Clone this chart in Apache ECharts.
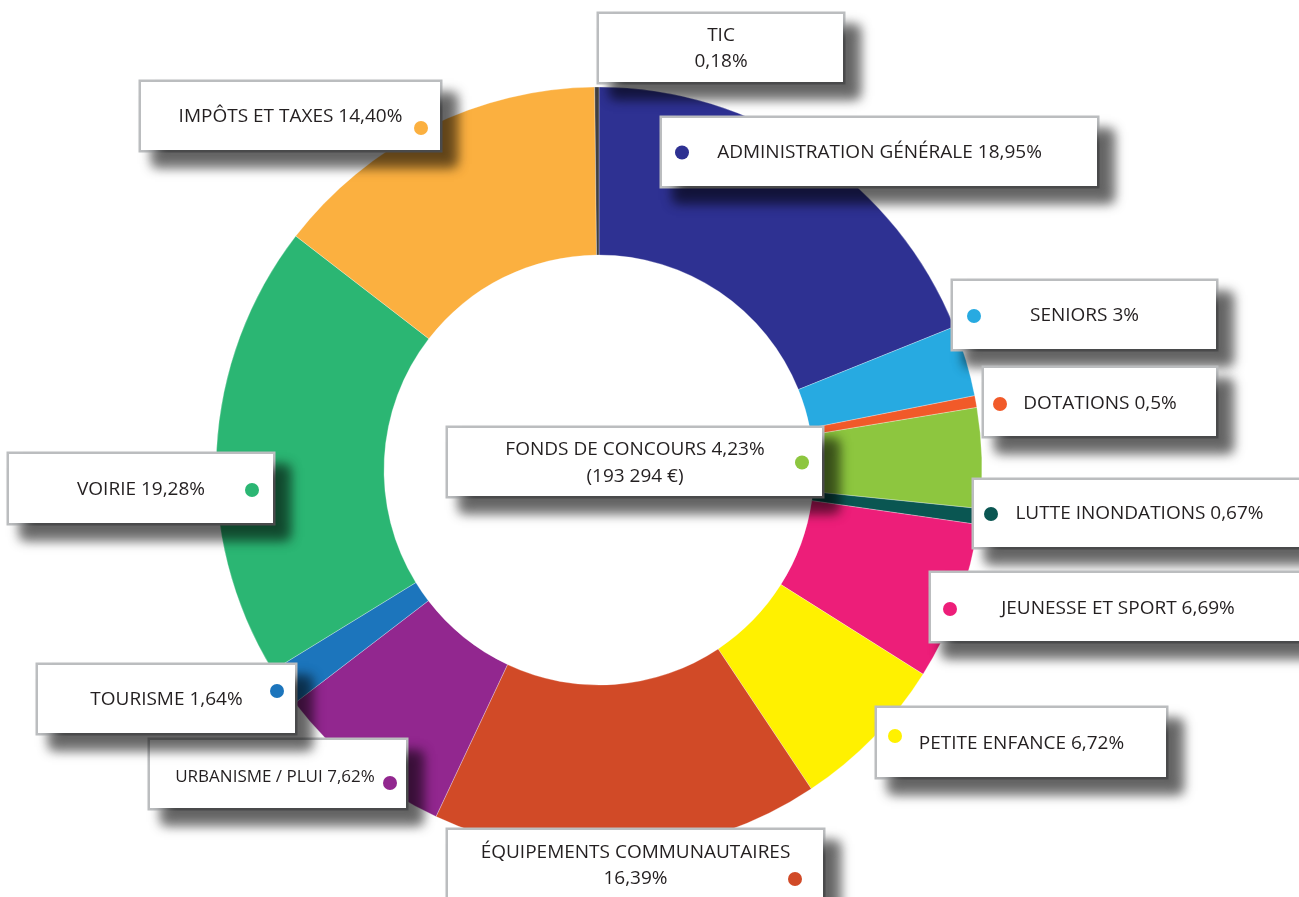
<!DOCTYPE html>
<html>
<head>
<meta charset="utf-8">
<script src="https://cdn.jsdelivr.net/npm/echarts@6/dist/echarts.min.js"></script>
<style>
html,body{margin:0;padding:0;background:#ffffff;}
#chart{width:1299px;height:897px;}
</style>
</head>
<body>
<div id="chart"></div>
<script>
// ---- data ----
const categories = ['ADMINISTRATION GÉNÉRALE','SENIORS','DOTATIONS','FONDS DE CONCOURS','LUTTE INONDATIONS','JEUNESSE ET SPORT','PETITE ENFANCE','ÉQUIPEMENTS COMMUNAUTAIRES','URBANISME / PLUI','TOURISME','VOIRIE','IMPÔTS ET TAXES','TIC'];
const values = [18.95, 3, 0.5, 4.23, 0.67, 6.69, 6.72, 16.39, 7.62, 1.64, 19.28, 14.40, 0.18];
const valueLabels = ['18,95%','3%','0,5%','4,23%','0,67%','6,69%','6,72%','16,39%','7,62%','1,64%','19,28%','14,40%','0,18%'];
const notes = ['','','','(193 294 €)','','','','','','','','',''];

// ---- styles ----
const colors = ['#2E3192','#27AAE1','#F15A29','#8DC63F','#0A5652','#ED1E79','#FFF100','#D14A27','#92278F','#1C75BC','#2BB673','#FBB040','#414042'];

// ---- label box layout (pixels) ----
const boxes = [
  {x:662, y:118, w:435, h:68, side:'l', dx:20, dy:0,   ty:152.5},
  {x:953, y:281, w:263, h:68, side:'l', dx:21, dy:0,   ty:316},
  {x:984, y:368, w:232, h:68, side:'l', dx:16, dy:0,   ty:404},
  {x:448, y:428, w:374, h:68, side:'r', dx:20, dy:12.5,ty:450, ls:27, dotLine:0},
  {x:974, y:480, w:331, h:67, side:'l', dx:17, dy:0,   ty:514},
  {x:931, y:573, w:374, h:68, side:'l', dx:19, dy:0,   ty:609},
  {x:877, y:708, w:289, h:69, side:'l', dx:18, dy:-8,  ty:744},
  {x:448, y:830, w:375, h:68, side:'r', dx:28, dy:2,   ty:853, ls:26, dotLine:1, brk:true},
  {x:150, y:740, w:256, h:68, side:'r', dx:16, dy:5,   ty:777, fs:17, sp:8},
  {x:38,  y:665, w:257, h:68, side:'r', dx:18, dy:-9,  ty:700},
  {x:9,   y:454, w:264, h:69, side:'r', dx:21, dy:0,   ty:490},
  {x:141, y:82,  w:299, h:68, side:'r', dx:19, dy:11,  ty:117},
  {x:599, y:14,  w:244, h:68, side:null,              ty:35.5, ls:26, brk:true}
];

const FONT = {fontFamily:'"Open Sans", sans-serif', fontSize:19, color:'#231f20'};

function buildLabel(i) {
  const b = boxes[i];
  let lines;
  if (b.brk) lines = [categories[i], valueLabels[i]];
  else lines = [categories[i] + ' ' + valueLabels[i]];
  if (notes[i]) lines.push(notes[i]);
  const LS = b.ls || 26;
  const p = b.side ? b.dx - 7 : 0;
  const dotLine = b.dotLine || 0;
  const ady = Math.abs(b.dy || 0);
  const DL = ady >= 3 ? 2 * (ady + 7) : 14;
  const dotVA = ady >= 3 ? (b.dy > 0 ? 'bottom' : 'top') : 'middle';
  const font = Object.assign({}, FONT, b.fs ? {fontSize: b.fs} : {});
  const rich = {
    dot: {width:14, height:14, borderRadius:7, backgroundColor:colors[i], lineHeight:DL,
          verticalAlign:dotVA, align: b.side === 'l' ? 'left' : 'right'},
    sp: {width: b.sp != null ? b.sp : 14, height:1, lineHeight:1, align: b.side === 'l' ? 'right' : 'left'}
  };
  let L0 = LS;
  if (b.side && dotLine === 0) L0 = Math.max(LS, DL);
  let top = b.ty - L0 / 2;
  const padTop = top - b.y;
  const parts = [];
  lines.forEach(function (txt, j) {
    const c = b.ty + j * LS;
    const lh = 2 * (c - top);
    let L = lh;
    if (b.side && j === dotLine) L = Math.max(lh, DL);
    rich['t' + j] = Object.assign({lineHeight: lh, align:'center', verticalAlign:'middle'}, font);
    let s;
    if (b.side && j === dotLine) {
      s = b.side === 'l' ? '{dot|}{t' + j + '|' + txt + '}{sp|}' : '{sp|}{t' + j + '|' + txt + '}{dot|}';
    } else {
      s = '{t' + j + '|' + txt + '}';
    }
    parts.push(s);
    top += L;
  });
  const padBottom = (b.y + b.h) - top;
  return {
    show: true,
    formatter: parts.join('\n'),
    width: b.w - 2 * p,
    padding: [padTop, p, padBottom, p],
    rich: rich
  };
}

const data = categories.map(function (name, i) {
  return {name: name, value: values[i], itemStyle: {color: colors[i]}, label: buildLabel(i)};
});

const chart = echarts.init(document.getElementById('chart'), null, {renderer:'canvas'});
chart.setOption({
  animation: false,
  backgroundColor: '#ffffff',
  series: [{
    type: 'pie',
    center: [599, 470],
    radius: [215, 383],
    startAngle: 90,
    clockwise: true,
    avoidLabelOverlap: false,
    silent: true,
    itemStyle: {borderWidth: 0.4, borderColor: 'rgba(255,255,255,0.7)'},
    label: {
      show: true,
      position: 'outside',
      backgroundColor: '#ffffff',
      borderColor: '#bcbec0',
      borderWidth: 2.5,
      shadowColor: 'rgba(0,0,0,0.62)',
      shadowBlur: 12,
      shadowOffsetX: 14,
      shadowOffsetY: 14,
      fontFamily: FONT.fontFamily,
      fontSize: FONT.fontSize,
      color: FONT.color
    },
    labelLine: {show: false},
    labelLayout: function (params) {
      const b = boxes[params.dataIndex];
      return {x: b.x, y: b.y, align: 'left', verticalAlign: 'top'};
    },
    data: data
  }]
});
</script>
</body>
</html>
